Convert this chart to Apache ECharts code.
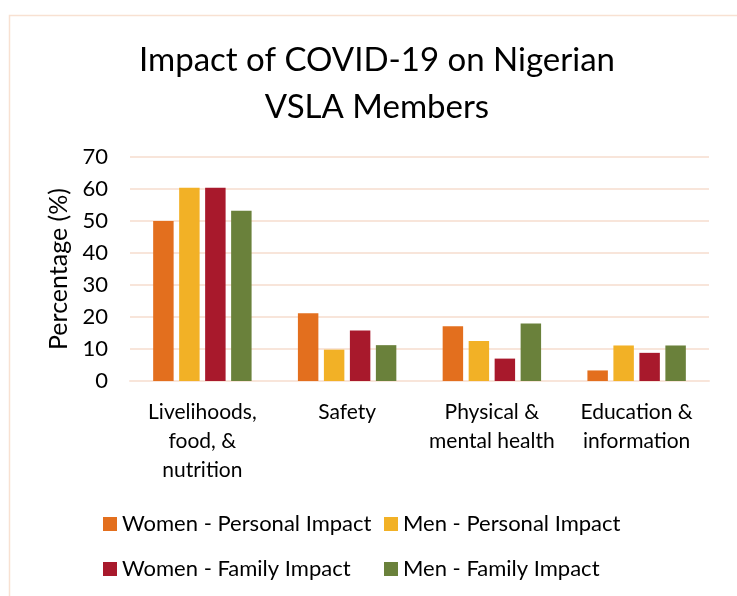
<!DOCTYPE html>
<html>
<head>
<meta charset="utf-8">
<script src="https://cdn.jsdelivr.net/npm/echarts@6/dist/echarts.min.js"></script>
<style>html,body{margin:0;padding:0;background:#fff}#c{width:737px;height:596px}</style>
</head>
<body>
<div id="c"></div>
<script>
const categories = ["Livelihoods,\nfood, &\nnutrition", "Safety", "Physical &\nmental health", "Education &\ninformation"];
const womenPersonal = [50, 21.2, 17.1, 3.3];
const menPersonal = [60.4, 9.8, 12.5, 11.1];
const womenFamily = [60.4, 15.8, 7.0, 8.8];
const menFamily = [53.2, 11.2, 18.0, 11.1];
const seriesNames = ["Women - Personal Impact", "Men - Personal Impact", "Women - Family Impact", "Men - Family Impact"];
const seriesColors = ["#E36F1E", "#F2B126", "#A8192C", "#6A813B"];
const yTicks = [0, 10, 20, 30, 40, 50, 60, 70];

const FONT = "Lato";
const chart = echarts.init(document.getElementById('c'), null, {renderer: 'canvas'});
const dataSets = [womenPersonal, menPersonal, womenFamily, menFamily];
const legendPos = [[103, 513], [384, 513], [103, 558], [384, 558]];

chart.setOption({
  backgroundColor: '#fff',
  animation: false,
  textStyle: {fontFamily: FONT},
  graphic: [{
    type: 'rect', left: 7, top: 13, shape: {width: 760, height: 620},
    style: {fill: 'none', stroke: '#F8E1D2', lineWidth: 1.5}, silent: true, z: -10
  }],
  title: {
    text: "Impact of COVID-19 on Nigerian\nVSLA Members",
    left: 372, top: 32, textAlign: 'center',
    textStyle: {fontFamily: FONT, fontSize: 33, fontWeight: 'normal', color: '#000', lineHeight: 47}
  },
  legend: seriesNames.map((n, i) => ({
    data: [n], left: legendPos[i][0], top: legendPos[i][1], padding: 0,
    itemWidth: 14, itemHeight: 14, icon: 'rect', itemGap: 0,
    textStyle: {fontFamily: FONT, fontSize: 22, color: '#000'},
    selectedMode: false
  })),
  grid: {left: 130, right: 28, top: 157, bottom: 215},
  xAxis: {
    type: 'category', data: categories,
    axisLine: {show: true, lineStyle: {color: '#F8E5DA', width: 2}},
    axisTick: {show: false},
    axisLabel: {fontFamily: FONT, fontSize: 21, color: '#000', lineHeight: 29, margin: 17, interval: 0}
  },
  yAxis: {
    type: 'value', min: 0, max: 70, interval: 10,
    name: 'Percentage (%)', nameLocation: 'middle', nameRotate: 90, nameGap: 56,
    nameTextStyle: {fontFamily: FONT, fontSize: 25, color: '#000'},
    axisLine: {show: false}, axisTick: {show: false},
    axisLabel: {fontFamily: FONT, fontSize: 22, color: '#000', margin: 22,
      formatter: v => yTicks.includes(v) ? String(v) : ''},
    splitLine: {lineStyle: {color: '#F8E5DA', width: 2}}
  },
  series: seriesNames.map((n, i) => ({
    name: n, type: 'bar', data: dataSets[i],
    barGap: '27%', barCategoryGap: '32%',
    itemStyle: {color: seriesColors[i]}
  }))
});
</script>
</body>
</html>
